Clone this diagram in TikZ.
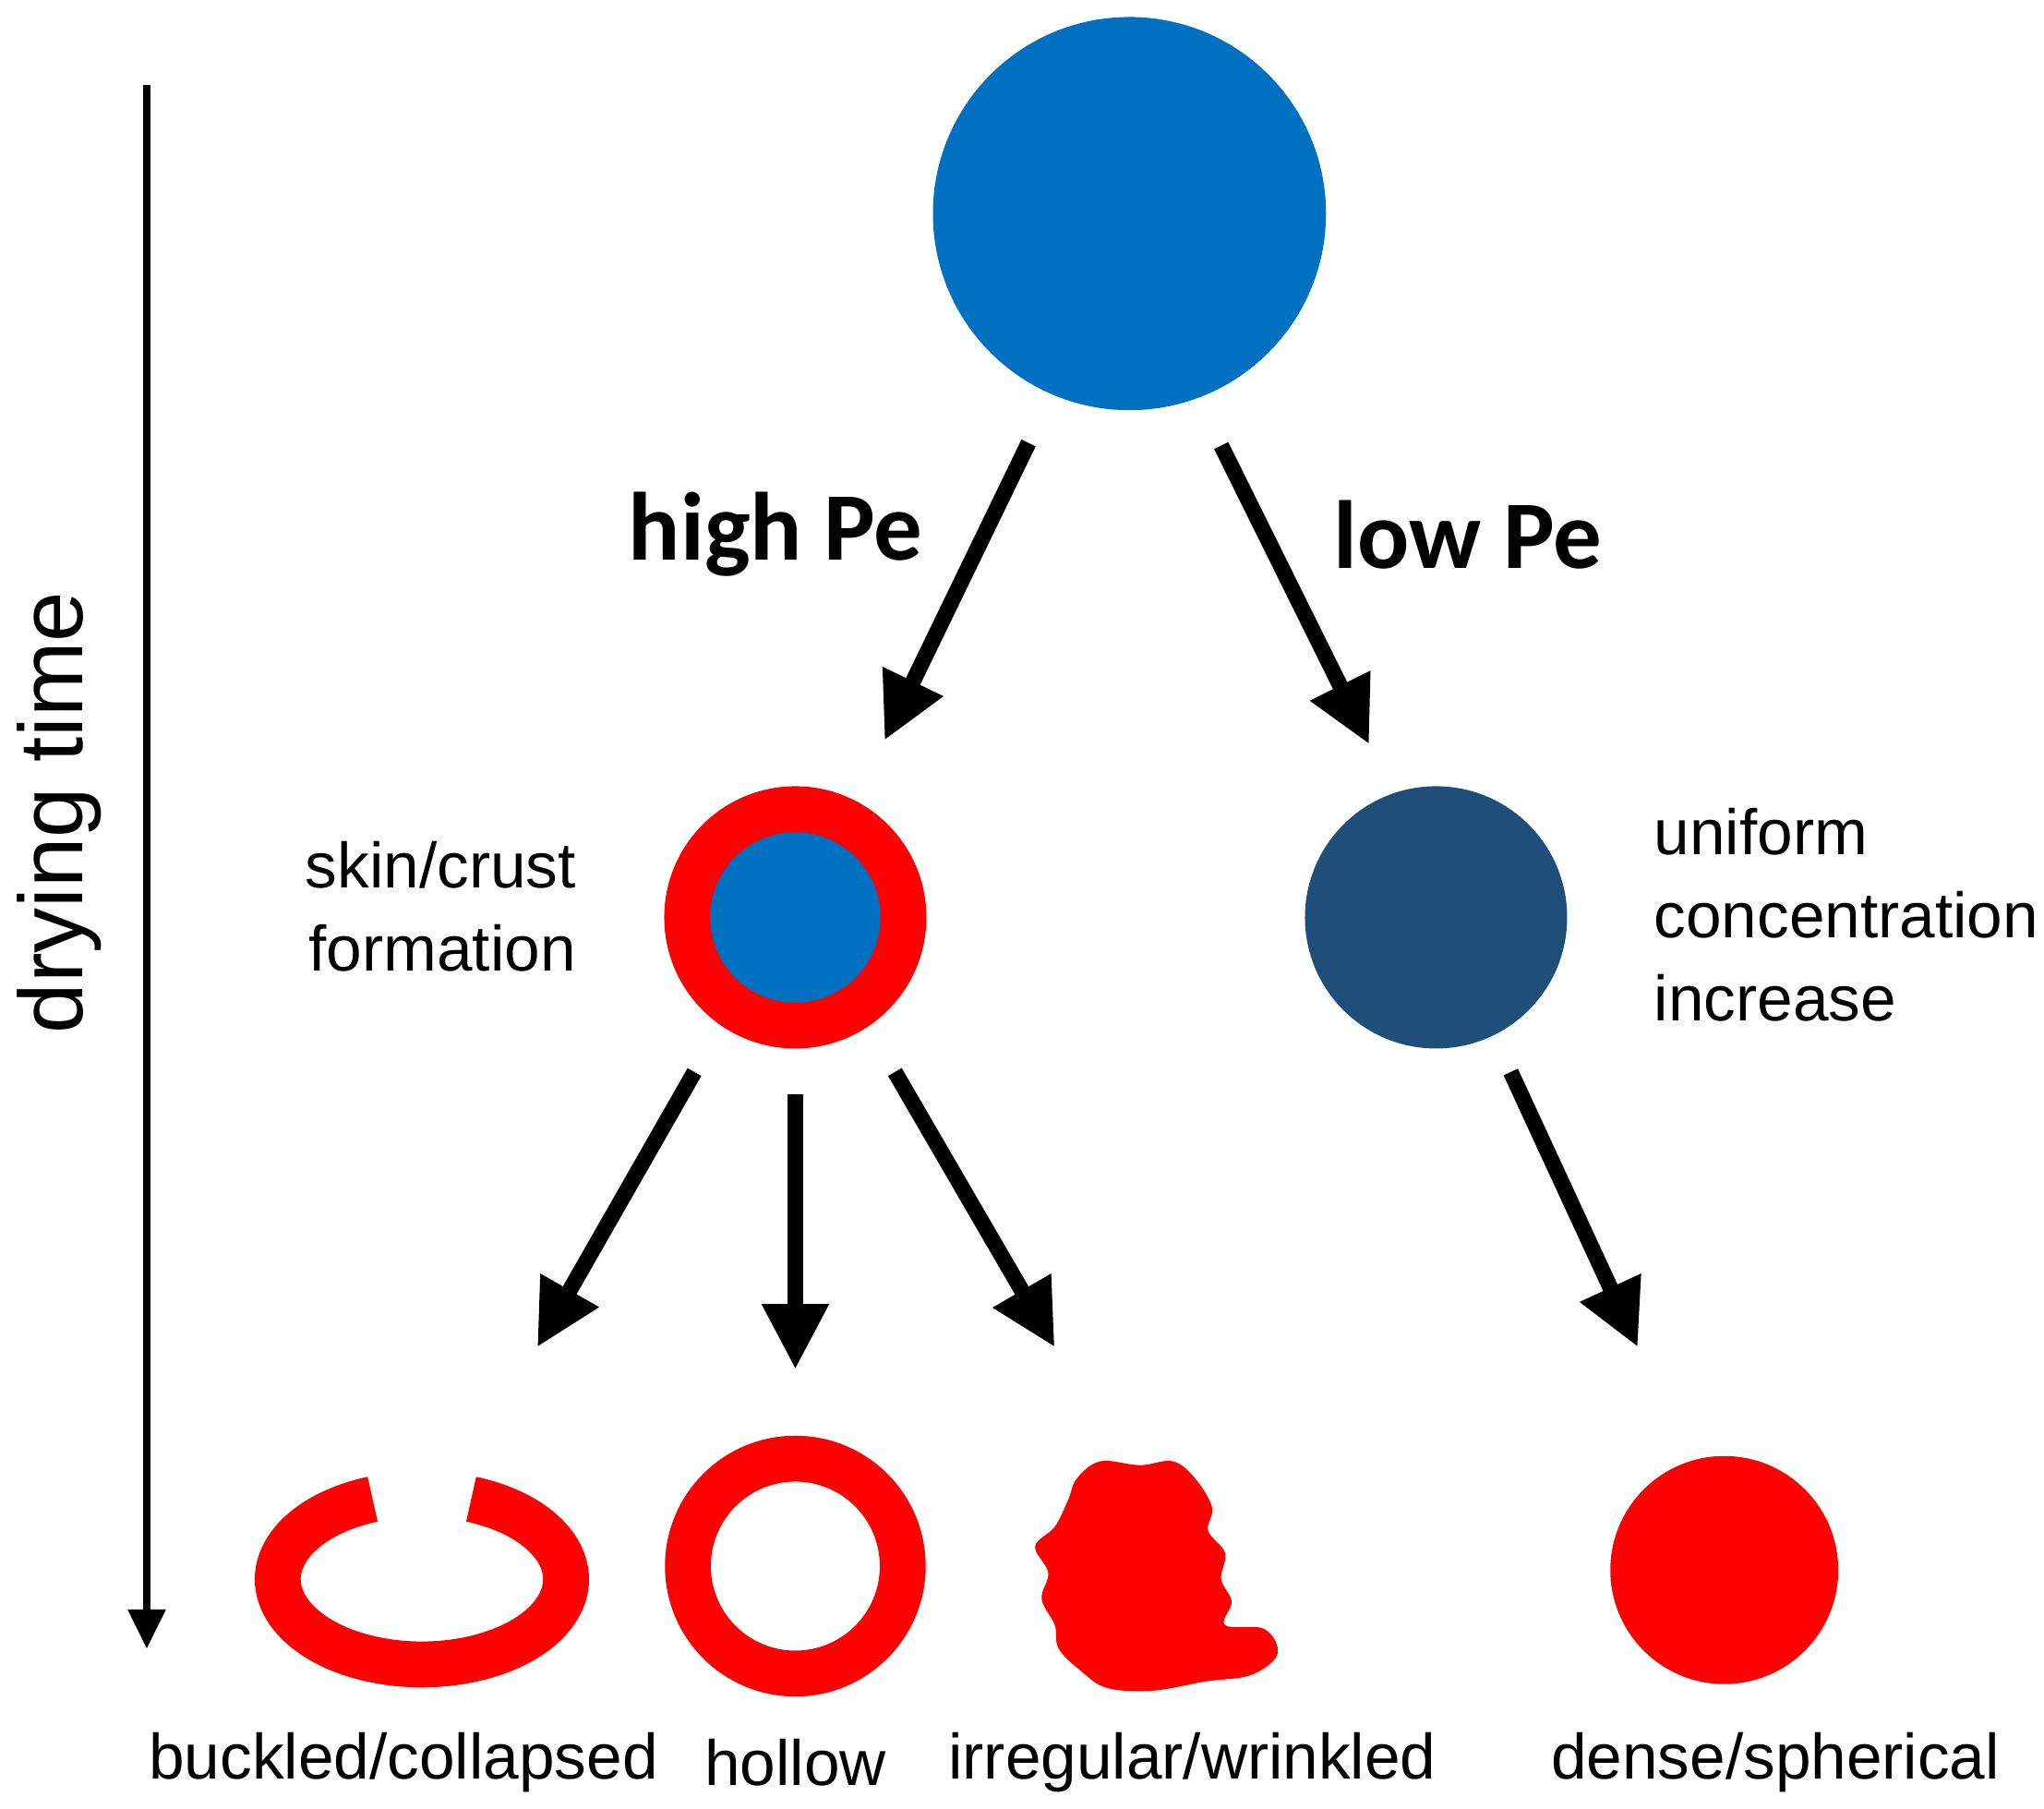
\documentclass[tikz,border=0pt]{standalone}
\usepackage{fontspec}
\setmainfont{Liberation Sans}
\newfontfamily\pefont{Carlito}
\usetikzlibrary{arrows.meta, positioning}
\definecolor{dropblue}{RGB}{0, 112, 192}
\definecolor{darkblue}{RGB}{31, 78, 121}
\definecolor{crustred}{RGB}{255, 0, 0}
\begin{document}
\begin{tikzpicture}[
    x=0.01cm, y=-0.01cm,
    bigarrow/.style={-{Triangle[length=0.5cm, width=0.48cm]}, line width=0.12cm, black},
    txt/.style={font=\fontsize{13.9}{18}\selectfont, align=left},
    pe/.style={font=\pefont\bfseries\fontsize{21}{25}\selectfont}
]
\useasboundingbox (0,0) rectangle (1560,1380);

% Droplets
\fill[dropblue] (862,163) circle (150);
\node[circle, minimum size=2cm, fill=crustred] (crust) at (607,700) {};
\fill[dropblue] (crust) circle (65);
\node[circle, minimum size=2cm, fill=darkblue] (uniform) at (1096,700) {};

% Particles
\draw[crustred, line width=0.35cm] (322,1205) ++(-70:110 and 65) arc[start angle=-70, end angle=250, x radius=110, y radius=65];
\draw[crustred, line width=0.35cm] (607,1195) circle (82);
\fill[crustred] plot[smooth cycle, tension=0.6] coordinates {(822,1128) (840,1115) (870,1118) (895,1115) (912,1128) (925,1150) (922,1168) (935,1185) (932,1205) (940,1222) (935,1240) (965,1243) (975,1262) (955,1278) (920,1283) (880,1290) (845,1288) (825,1275) (808,1258) (805,1240) (795,1220) (800,1200) (790,1180) (805,1165) (815,1145)};
\fill[crustred] (1316,1198) circle (87);

% Arrow ends
\coordinate (t1) at (785,338);   \coordinate (h1) at (675,565);
\coordinate (t2) at (932,340);   \coordinate (h2) at (1045,568);
\coordinate (t3) at (530,818);   \coordinate (h3) at (410,1028);
\coordinate (t4) at (607,835);   \coordinate (h4) at (607,1045);
\coordinate (t5) at (683,818);   \coordinate (h5) at (805,1028);
\coordinate (t6) at (1153,818);  \coordinate (h6) at (1250,1028);
\coordinate (ttop) at (112,65);  \coordinate (tbot) at (112,1258);

\draw[bigarrow] (t1) -- (h1);
\draw[bigarrow] (t2) -- (h2);
\draw[bigarrow] (t3) -- (h3);
\draw[bigarrow] (t4) -- (h4);
\draw[bigarrow] (t5) -- (h5);
\draw[bigarrow] (t6) -- (h6);
\draw[-{Triangle[length=0.3cm, width=0.28cm]}, line width=0.05cm] (ttop) -- (tbot);

% Labels
\node[rotate=90, font=\fontsize{19.6}{24}\selectfont] (time) at (45,620) {drying time};
\node[pe] (high) at (592,408) {high Pe};
\node[pe] (low) at (1120,408) {low Pe};
\node[txt, align=right, anchor=east] (skin) at (452,692) {skin/crust\\formation};
\node[txt, anchor=west] (conc) at (1250,698) {uniform\\concentration\\increase};
\node[txt] (buckled) at (308,1345) {buckled/collapsed};
\node[txt] (hollow) at (607,1345) {hollow};
\node[txt] (irregular) at (910,1345) {irregular/wrinkled};
\node[txt] (dense) at (1355,1345) {dense/spherical};

\end{tikzpicture}
\end{document}
